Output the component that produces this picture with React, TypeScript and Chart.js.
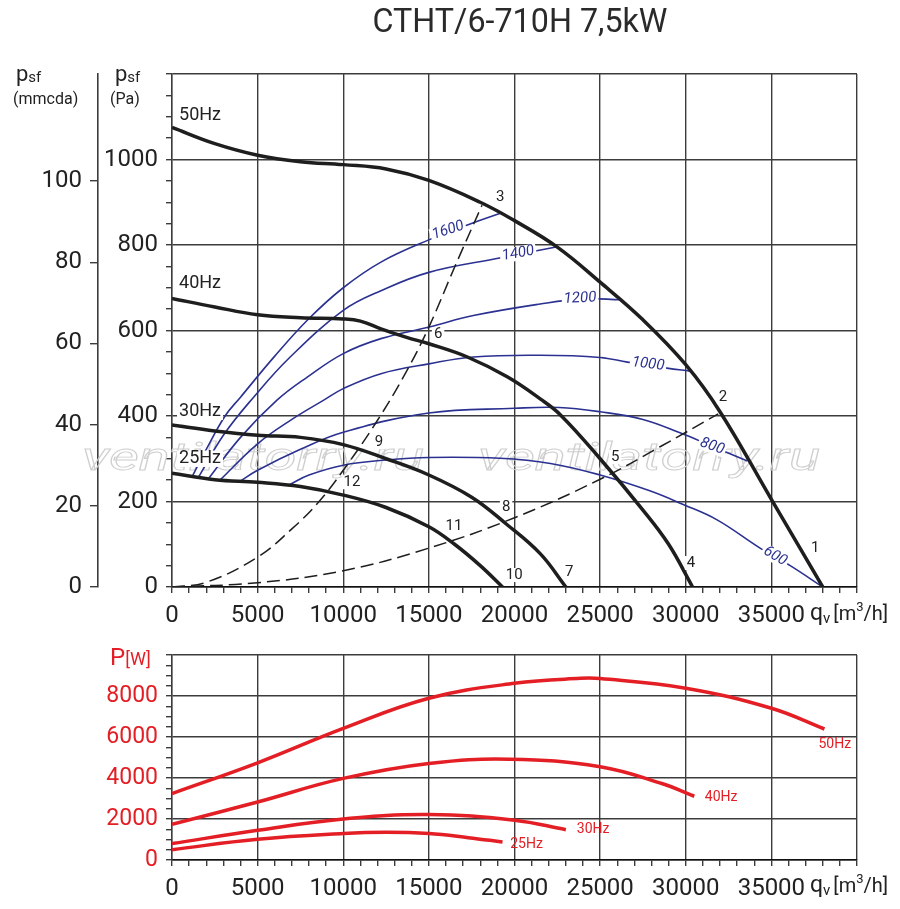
import React, { useEffect, useRef } from 'react';
import { Chart, registerables } from 'chart.js';

Chart.register(...registerables);

const FONT = 'Roboto, "DejaVu Sans", sans-serif';
const GRID = '#3c3c3c';
const INK = '#1e1e1e';
const BLUE = '#2b3190';
const RED = '#e31e24';

// ---- axis ticks ----
const flowTickLabels = [0, 5000, 10000, 15000, 20000, 25000, 30000, 35000];
const paTickLabels = [0, 200, 400, 600, 800, 1000];
const mmTickLabels = [0, 20, 40, 60, 80, 100];
const powerTickLabels = [0, 2000, 4000, 6000, 8000];

// ---- fan curves: static pressure [Pa] vs flow [m3/h] ----
const flow50 = [0, 2500, 5000, 7500, 10000, 12500, 15000, 18000, 20000, 22500, 25000, 27500, 30000, 32000, 35000, 38000];
const pres50 = [1075, 1037, 1010, 995, 988, 978, 951, 900, 857, 795, 713, 625, 520, 410, 205, 0];
const flow40 = [0, 2500, 5000, 7500, 10000, 11000, 12200, 13700, 15000, 17250, 19600, 21500, 22700, 25000, 27500, 29000, 30400];
const pres40 = [675, 655, 637, 630, 627, 622, 604, 584, 569, 538, 491, 440, 402, 300, 180, 100, 0];
const flow30 = [0, 2500, 5000, 7500, 10000, 12500, 15000, 17500, 19500, 21500, 23000];
const pres30 = [379, 365, 355, 350, 333, 300, 262, 210, 148, 78, 0];
const flow25 = [0, 2500, 5000, 7500, 10000, 12500, 15000, 16500, 18000, 19300];
const pres25 = [266, 251, 245, 235, 215, 186, 141, 100, 50, 0];

// ---- system curves (dashed) ----
const sysSteepQ = [0, 2000, 5000, 7000, 8500, 10000, 12000, 13700, 15000, 16500, 18100];
const sysSteepP = [0, 11, 70, 136, 196, 273, 390, 505, 608, 748, 893];
const sysFlatQ = [0, 5000, 10000, 15000, 20000, 25000, 28500, 31900];
const sysFlatP = [0, 10, 38, 91, 162, 252, 328, 405];

// ---- constant speed lines [rpm] ----
const q1600 = [1150, 2000, 3100, 4000, 6000, 8000, 10000, 12200, 15000, 17250, 19300];
const p1600 = [256, 322, 400, 444, 540, 628, 700, 760, 812, 847, 876];
const q1400 = [1520, 3000, 4766, 6900, 10000, 12200, 15000, 19200, 22500];
const p1400 = [255, 355, 444, 538, 647, 693, 736, 770, 796];
const q1200 = [2100, 4000, 6130, 7900, 10000, 12200, 15000, 17600, 21500, 24000, 26200];
const p1200 = [252, 350, 437, 491, 546, 581, 608, 635, 662, 674, 672];
const q1000 = [2800, 5000, 7000, 8860, 10000, 12200, 15000, 17600, 21500, 25000, 26600, 28900, 30250];
const p1000 = [250, 335, 392, 437, 464, 499, 522, 538, 542, 537, 526, 512, 505];
const q800 = [3970, 5000, 7500, 10000, 15000, 20000, 22600, 25000, 27500, 29700, 31500, 33600];
const p800 = [247, 273, 322, 362, 407, 418, 420, 410, 392, 360, 330, 295];
const q600 = [6890, 8000, 10000, 12500, 15000, 19150, 22100, 25000, 27900, 29850, 31830, 34340, 36100, 38000];
const p600 = [240, 262, 285, 297, 303, 301, 289, 262, 225, 193, 157, 91, 50, 0];

// ---- absorbed power [W] vs flow ----
const powQ50 = [0, 5000, 10000, 15000, 20000, 23850, 25000, 30000, 35000, 38100];
const powP50 = [3240, 4740, 6420, 7890, 8620, 8860, 8850, 8380, 7400, 6390];
const powQ40 = [0, 5000, 10000, 15000, 19700, 25000, 28600, 30500];
const powP40 = [1740, 2830, 3980, 4710, 4920, 4550, 3730, 3110];
const powQ30 = [0, 5000, 10000, 15000, 20000, 23000];
const powP30 = [800, 1450, 2000, 2215, 1940, 1480];
const powQ25 = [0, 5000, 10000, 12500, 15000, 17300, 19300];
const powP25 = [505, 1010, 1290, 1350, 1290, 1090, 880];

// ---- labels (text, flow, value) ----
const hzNames = ['50Hz', '40Hz', '30Hz', '25Hz'];
const hzLabelQ = [410, 410, 410, 410];
const hzLabelP = [1102, 710, 410, 300];
const pointNames = ['1', '2', '3', '4', '5', '6', '7', '8', '9', '10', '11', '12'];
const pointQ = [37560, 32180, 19160, 30310, 25880, 15540, 23190, 19510, 12090, 19980, 16470, 10510];
const pointP = [91, 444, 911, 56, 304, 591, 35, 187, 339, 28, 143, 245];
const rpmNames = ['1600', '1400', '1200', '1000', '800', '600'];
const rpmLabelQ = [16120, 20210, 23830, 27800, 31540, 35220];
const rpmLabelP = [834, 780, 675, 521, 329, 72];
const rpmLabelAngle = [-18, -10, -3, 7, 20, 30];
const powNames = ['50Hz', '40Hz', '30Hz', '25Hz'];
const powLabelQ = [37750, 31110, 23640, 19750];
const powLabelP = [5620, 3040, 1470, 735];

const pts = (q: number[], v: number[]) => q.map((x, i) => ({ x, y: v[i] }));

const curve = (q: number[], v: number[], color: string, width: number, dash: number[] = []) => ({
  data: pts(q, v),
  borderColor: color,
  borderWidth: width,
  borderDash: dash,
  pointRadius: 0,
  fill: false,
  tension: 0.4,
  borderCapStyle: 'butt' as const,
});

const range = (max: number, step: number) =>
  Array.from({ length: Math.round(max / step) + 1 }, (_, i) => ({ value: i * step }));

function label(
  ctx: CanvasRenderingContext2D, text: string, x: number, y: number, size: number,
  color: string, align: 'left' | 'center', angle = 0, style = '',
) {
  ctx.save();
  ctx.font = `${style} ${size}px ${FONT}`;
  ctx.translate(x, y);
  ctx.rotate((angle * Math.PI) / 180);
  const w = ctx.measureText(text).width;
  const h = size * 0.8;
  const x0 = align === 'left' ? 0 : -w / 2;
  ctx.fillStyle = '#fff';
  ctx.fillRect(x0 - 2, -h / 2 - 1, w + 4, h + 2);
  ctx.fillStyle = color;
  ctx.textAlign = align;
  ctx.textBaseline = 'middle';
  ctx.fillText(text, 0, 0);
  ctx.restore();
}

// "qv [m3/h]" axis title, drawn piece by piece
function drawQv(ctx: CanvasRenderingContext2D, x: number, base: number) {
  ctx.save();
  ctx.fillStyle = '#222';
  ctx.textBaseline = 'alphabetic';
  ctx.textAlign = 'left';
  const part = (t: string, size: number, dy: number) => {
    ctx.font = `${size}px ${FONT}`;
    ctx.fillText(t, x, base + dy);
    x += ctx.measureText(t).width;
  };
  part('q', 23, 0);
  part('v', 15, 3);
  x += 3;
  part('[m', 20, 0);
  part('3', 13, -9);
  part('/h]', 20, 0);
  ctx.restore();
}

function xAxis(height: number) {
  return {
    type: 'linear' as const,
    min: 0,
    max: 40000,
    afterBuildTicks: (s: any) => { s.ticks = range(40000, 1000); },
    afterFit: (s: any) => { s.height = height; },
    ticks: {
      autoSkip: false,
      maxRotation: 0,
      padding: 9,
      color: '#222',
      font: { family: FONT, size: 24 },
      callback: (v: any) => (flowTickLabels.includes(Number(v)) ? String(v) : ''),
    },
    grid: {
      color: (c: any) => (c.tick && c.tick.value % 5000 === 0 ? GRID : 'rgba(0,0,0,0)'),
      tickColor: GRID,
      lineWidth: 1.4,
      tickLength: 6,
    },
    border: { display: true, color: '#111', width: 1.6 },
  };
}

const topDecor = {
  id: 'topDecor',
  beforeDatasetsDraw(chart: any) {
    const ctx: CanvasRenderingContext2D = chart.ctx;
    ctx.save();
    ctx.font = `italic 38px ${FONT}`;
    const txt = 'ventilatorry.ru';
    const w = ctx.measureText(txt).width;
    ctx.strokeStyle = '#cfcfcf';
    ctx.lineWidth = 0.9;
    for (const left of [82, 478]) {
      ctx.save();
      ctx.translate(left, 470);
      ctx.scale(342 / w, 1);
      ctx.strokeText(txt, 0, 0);
      ctx.restore();
    }
    ctx.restore();
  },
  afterDraw(chart: any) {
    const ctx: CanvasRenderingContext2D = chart.ctx;
    const xs = chart.scales.x;
    const ys = chart.scales.y;

    rpmNames.forEach((t, i) =>
      label(ctx, t, xs.getPixelForValue(rpmLabelQ[i]), ys.getPixelForValue(rpmLabelP[i]), 15, BLUE, 'center', rpmLabelAngle[i], 'italic'));
    hzNames.forEach((t, i) =>
      label(ctx, t, xs.getPixelForValue(hzLabelQ[i]), ys.getPixelForValue(hzLabelP[i]), 18, '#222', 'left'));
    pointNames.forEach((t, i) =>
      label(ctx, t, xs.getPixelForValue(pointQ[i]), ys.getPixelForValue(pointP[i]), 15, '#222', 'center'));

    // title
    ctx.save();
    ctx.font = `33px ${FONT}`;
    const title = 'CTHT/6-710H 7,5kW';
    const tw = ctx.measureText(title).width;
    ctx.fillStyle = '#2a2a2a';
    ctx.textBaseline = 'alphabetic';
    ctx.translate(520 - 295 / 2, 32);
    ctx.scale(295 / tw, 1);
    ctx.fillText(title, 0, 0);
    ctx.restore();

    // axis titles
    ctx.save();
    ctx.fillStyle = '#222';
    ctx.textBaseline = 'alphabetic';
    const psf = (x: number) => {
      ctx.font = `22px ${FONT}`;
      ctx.fillText('p', x, 81);
      const pw = ctx.measureText('p').width;
      ctx.font = `15px ${FONT}`;
      ctx.fillText('sf', x + pw, 82);
    };
    psf(16);
    psf(115);
    ctx.font = `16px ${FONT}`;
    ctx.fillText('(mmcda)', 13, 104);
    ctx.fillText('(Pa)', 110, 104);
    ctx.restore();

    drawQv(ctx, 810, 620);
  },
};

const bottomDecor = {
  id: 'bottomDecor',
  afterDraw(chart: any) {
    const ctx: CanvasRenderingContext2D = chart.ctx;
    const xs = chart.scales.x;
    const ys = chart.scales.y;
    powNames.forEach((t, i) => {
      ctx.save();
      ctx.font = `14px ${FONT}`;
      ctx.fillStyle = RED;
      ctx.textBaseline = 'middle';
      ctx.fillText(t, xs.getPixelForValue(powLabelQ[i]), ys.getPixelForValue(powLabelP[i]));
      ctx.restore();
    });
    ctx.save();
    ctx.fillStyle = RED;
    ctx.textBaseline = 'alphabetic';
    ctx.font = `24px ${FONT}`;
    ctx.fillText('P', 110, 40);
    const pw = ctx.measureText('P').width;
    ctx.font = `18px ${FONT}`;
    ctx.fillText('[W]', 110 + pw, 40);
    ctx.restore();
    drawQv(ctx, 810, 267);
  },
};

const App: React.FC = () => {
  const topRef = useRef<HTMLCanvasElement>(null);
  const bottomRef = useRef<HTMLCanvasElement>(null);

  useEffect(() => {
    if (!topRef.current || !bottomRef.current) return;

    const top = new Chart(topRef.current, {
      type: 'line',
      data: {
        datasets: [
          curve(flow50, pres50, INK, 3.5),
          curve(flow40, pres40, INK, 3.5),
          curve(flow30, pres30, INK, 3.5),
          curve(flow25, pres25, INK, 3.5),
          curve(sysSteepQ, sysSteepP, INK, 1.5, [13, 6]),
          curve(sysFlatQ, sysFlatP, INK, 1.5, [13, 6]),
          curve(q1600, p1600, BLUE, 1.6),
          curve(q1400, p1400, BLUE, 1.6),
          curve(q1200, p1200, BLUE, 1.6),
          curve(q1000, p1000, BLUE, 1.6),
          curve(q800, p800, BLUE, 1.6),
          curve(q600, p600, BLUE, 1.6),
        ] as any,
      },
      options: {
        animation: false,
        responsive: false,
        devicePixelRatio: 1,
        layout: { padding: { top: 74, right: 43, left: 0, bottom: 0 } },
        plugins: { legend: { display: false }, tooltip: { enabled: false } },
        scales: {
          x: xAxis(38) as any,
          y: {
            type: 'linear',
            position: 'left',
            weight: 0,
            min: 0,
            max: 1200,
            afterBuildTicks: (s: any) => { s.ticks = range(1200, 50); },
            afterFit: (s: any) => { s.width = 74; },
            ticks: {
              autoSkip: false,
              padding: 8,
              color: '#222',
              font: { family: FONT, size: 24 },
              callback: (v: any) => (paTickLabels.includes(Number(v)) ? String(v) : ''),
            },
            grid: {
              color: (c: any) => (c.tick && c.tick.value % 200 === 0 ? GRID : 'rgba(0,0,0,0)'),
              tickColor: GRID,
              lineWidth: 1.4,
              tickLength: 6,
            },
            border: { display: true, color: GRID, width: 1.4 },
          },
          mm: {
            type: 'linear',
            position: 'left',
            weight: 1,
            min: 0,
            max: 126.4,
            afterBuildTicks: (s: any) => { s.ticks = mmTickLabels.map((value) => ({ value })); },
            afterFit: (s: any) => { s.width = 98; },
            ticks: { padding: 8, color: '#222', font: { family: FONT, size: 24 } },
            grid: { drawOnChartArea: false, color: GRID, lineWidth: 1.4, tickLength: 8 },
            border: { display: true, color: GRID, width: 1.6 },
          },
        } as any,
      },
      plugins: [topDecor],
    });

    const bottom = new Chart(bottomRef.current, {
      type: 'line',
      data: {
        datasets: [
          curve(powQ50, powP50, RED, 3.5),
          curve(powQ40, powP40, RED, 3.5),
          curve(powQ30, powP30, RED, 3.5),
          curve(powQ25, powP25, RED, 3.5),
        ] as any,
      },
      options: {
        animation: false,
        responsive: false,
        devicePixelRatio: 1,
        layout: { padding: { top: 30, right: 43, left: 0, bottom: 0 } },
        plugins: { legend: { display: false }, tooltip: { enabled: false } },
        scales: {
          x: xAxis(49) as any,
          y: {
            type: 'linear',
            position: 'left',
            min: 0,
            max: 10000,
            afterBuildTicks: (s: any) => { s.ticks = range(10000, 500); },
            afterFit: (s: any) => { s.width = 172; },
            ticks: {
              autoSkip: false,
              padding: 8,
              color: RED,
              font: { family: FONT, size: 23 },
              callback: (v: any) => (powerTickLabels.includes(Number(v)) ? String(v) : ''),
            },
            grid: {
              color: (c: any) => (c.tick && c.tick.value % 2000 === 0 ? GRID : 'rgba(0,0,0,0)'),
              tickColor: GRID,
              lineWidth: 1.4,
              tickLength: 6,
            },
            border: { display: true, color: GRID, width: 1.4 },
          },
        } as any,
      },
      plugins: [bottomDecor],
    });

    return () => {
      top.destroy();
      bottom.destroy();
    };
  }, []);

  return (
    <div style={{ position: 'absolute', left: 0, top: 0, width: 900, height: 909, background: '#fff' }}>
      <canvas ref={topRef} width={900} height={625} style={{ display: 'block', width: 900, height: 625 }} />
      <canvas ref={bottomRef} width={900} height={284} style={{ display: 'block', width: 900, height: 284 }} />
    </div>
  );
};

export default App;
